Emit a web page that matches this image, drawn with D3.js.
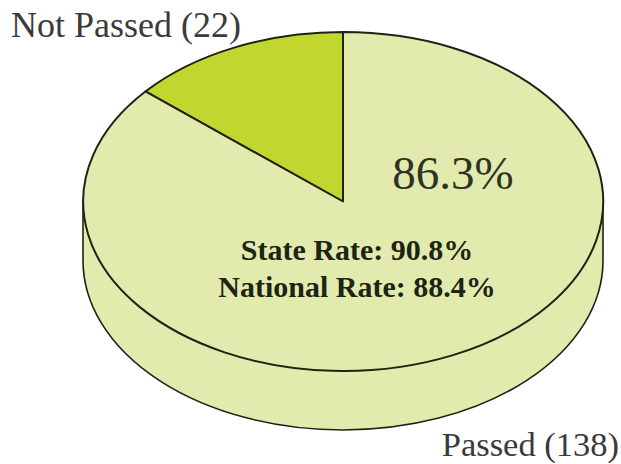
<!DOCTYPE html>
<html>
<head>
<meta charset="utf-8">
<script src="https://cdnjs.cloudflare.com/ajax/libs/d3/7.8.5/d3.min.js"></script>
<style>
html, body { margin: 0; padding: 0; background: #fff; }
svg { display: block; }
text { font-family: "Liberation Serif", serif; }
</style>
</head>
<body>
<div id="chart"></div>
<script>
var categories = ["Passed", "Not Passed"];
var counts = [138, 22];
var colors = ["#e2ebad", "#c1d72f"];
var rateLabels = ["State Rate: 90.8%", "National Rate: 88.4%"];
var passLabel = "86.3%";

var width = 621, height = 464;
var cx = 343, cy = 201.5, rx = 260, ry = 169.5, depth = 59;
var stroke = "#1c2414";

var svg = d3.select("#chart").append("svg")
    .attr("width", width)
    .attr("height", height);

// side of the disc
svg.append("path")
    .attr("d", "M" + (cx - rx) + "," + cy +
        "V" + (cy + depth) +
        "A" + rx + "," + ry + " 0 0 0 " + (cx + rx) + "," + (cy + depth) +
        "V" + cy + "Z")
    .attr("fill", colors[0])
    .attr("stroke", stroke)
    .attr("stroke-width", 1.6);

// top of the disc: unit pie squashed into an ellipse
var pie = d3.pie().sort(null).value(function(d) { return d.count; })
    .startAngle(0).endAngle(-2 * Math.PI);
var arc = d3.arc().innerRadius(0).outerRadius(1);
var rows = categories.map(function(c, i) { return {name: c, count: counts[i], color: colors[i]}; });

// Not Passed runs counter-clockwise from 12 o'clock, so draw it first in the list
var disc = svg.append("g")
    .attr("transform", "translate(" + cx + "," + cy + ") scale(" + rx + "," + ry + ")");

disc.selectAll("path")
    .data(pie(rows.slice().reverse()))
  .enter().append("path")
    .attr("d", arc)
    .attr("fill", function(d) { return d.data.color; })
    .attr("stroke", stroke)
    .attr("stroke-width", 2)
    .attr("stroke-linejoin", "round")
    .attr("vector-effect", "non-scaling-stroke");

svg.append("text")
    .attr("x", 11).attr("y", 37)
    .attr("font-size", 36)
    .attr("fill", "#3a3a3a")
    .text(categories[1] + " (" + counts[1] + ")");

svg.append("text")
    .attr("x", 619).attr("y", 456)
    .attr("text-anchor", "end")
    .attr("font-size", 34.5)
    .attr("fill", "#3a3a3a")
    .text(categories[0] + " (" + counts[0] + ")");

svg.append("text")
    .attr("x", 453).attr("y", 189)
    .attr("text-anchor", "middle")
    .attr("font-size", 47)
    .attr("fill", "#2e3326")
    .text(passLabel);

svg.selectAll(".rate")
    .data(rateLabels)
  .enter().append("text")
    .attr("class", "rate")
    .attr("x", 357)
    .attr("y", function(d, i) { return 260 + i * 37; })
    .attr("text-anchor", "middle")
    .attr("font-size", 30)
    .attr("font-weight", "bold")
    .attr("fill", "#1c2414")
    .text(function(d) { return d; });
</script>
</body>
</html>
